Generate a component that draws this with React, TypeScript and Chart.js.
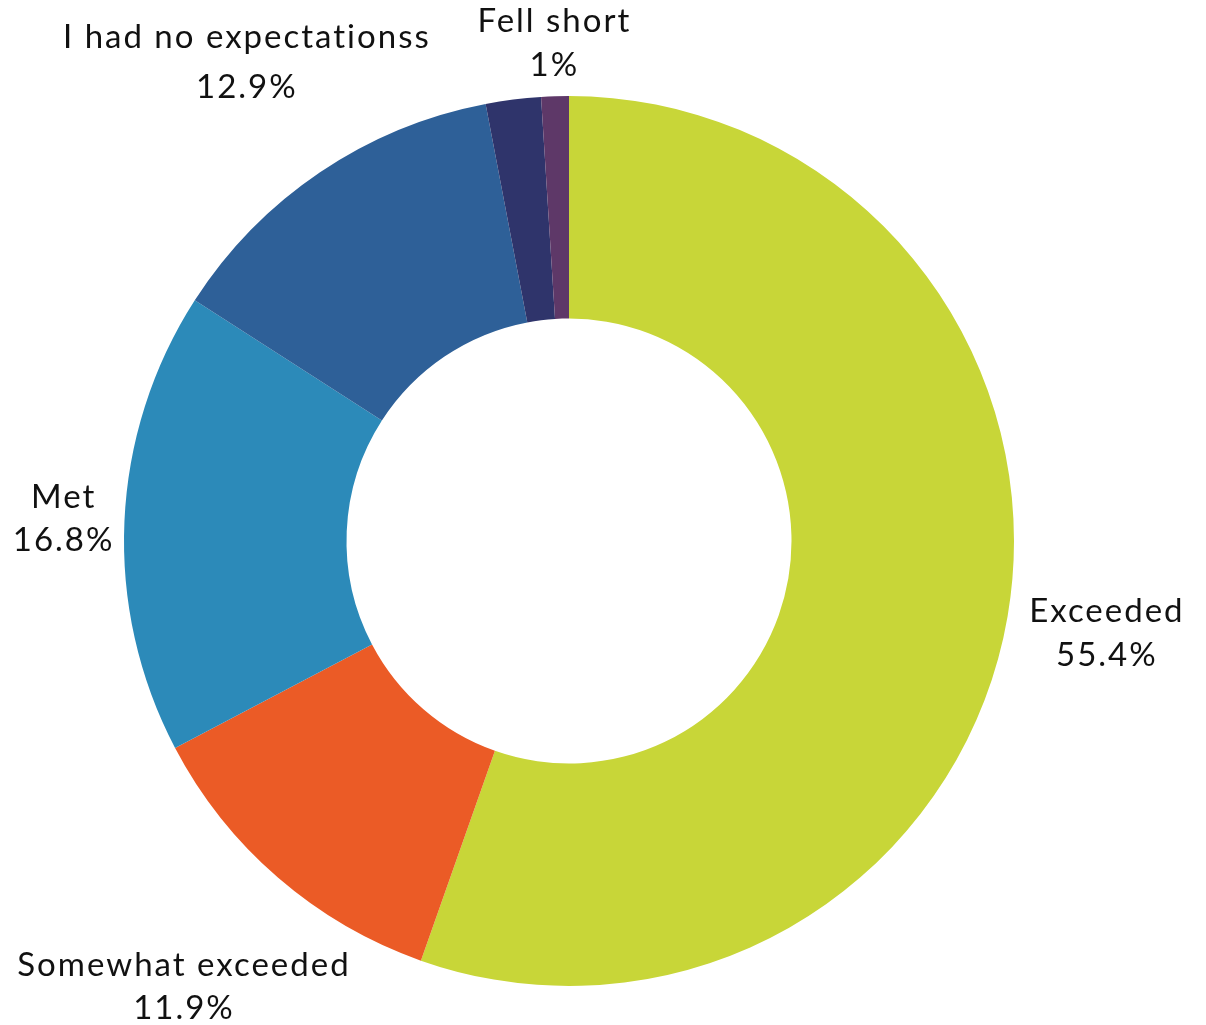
import React, { useEffect, useRef } from "react";
import { Chart, registerables } from "chart.js";

Chart.register(...registerables);

const categories = [
  "Exceeded",
  "Somewhat exceeded",
  "Met",
  "I had no expectationss",
  "",
  "Fell short",
];
const values = [55.4, 11.9, 16.8, 12.9, 2.0, 1.0];
const valueLabels = ["55.4%", "11.9%", "16.8%", "12.9%", "", "1%"];
const colors = ["#C8D638", "#EB5B26", "#2C8AB9", "#2E6098", "#2F346B", "#5E3868"];
// label centre distance, as a multiple of the outer radius (style only)
const labelDistance = [1.224, 1.326, 1.139, 1.298, 0, 1.118];
const labelLineGap = [44, 43, 43, 50, 0, 44];

const FONT = "33px Lato, 'Noto Sans', sans-serif";

const labelPlugin = {
  id: "outsideLabels",
  afterDatasetsDraw(chart: any) {
    const ctx = chart.ctx;
    const meta = chart.getDatasetMeta(0);
    ctx.save();
    ctx.font = FONT;
    try {
      (ctx as any).letterSpacing = "2px";
    } catch (e) {}
    ctx.fillStyle = "#111111";
    ctx.textAlign = "center";
    ctx.textBaseline = "middle";
    meta.data.forEach((arc: any, i: number) => {
      const name = categories[i];
      if (!name) return;
      const p = arc.getProps(["x", "y", "startAngle", "endAngle", "outerRadius"], true);
      const mid = (p.startAngle + p.endAngle) / 2;
      const r = p.outerRadius * labelDistance[i];
      const cx = p.x + Math.cos(mid) * r + 1;
      const cy = p.y + Math.sin(mid) * r;
      const g = labelLineGap[i];
      ctx.fillText(name, cx, cy - g / 2);
      ctx.fillText(valueLabels[i], cx, cy + g / 2);
    });
    ctx.restore();
  },
};

export default function App() {
  const ref = useRef<HTMLCanvasElement | null>(null);
  useEffect(() => {
    if (!ref.current) return;
    const chart = new Chart(ref.current, {
      type: "doughnut",
      data: {
        labels: categories,
        datasets: [
          {
            data: values,
            backgroundColor: colors,
            borderWidth: 0,
          },
        ],
      },
      options: {
        animation: false,
        responsive: true,
        maintainAspectRatio: false,
        cutout: "50%",
        layout: { padding: { left: 124, right: 192, top: 96, bottom: 39 } },
        plugins: {
          legend: { display: false },
          tooltip: { enabled: false },
        },
      },
      plugins: [labelPlugin],
    });
    return () => chart.destroy();
  }, []);
  return (
    <div style={{ position: "fixed", left: 0, top: 0, width: 1206, height: 1025, background: "#fff" }}>
      <canvas ref={ref} />
    </div>
  );
}
